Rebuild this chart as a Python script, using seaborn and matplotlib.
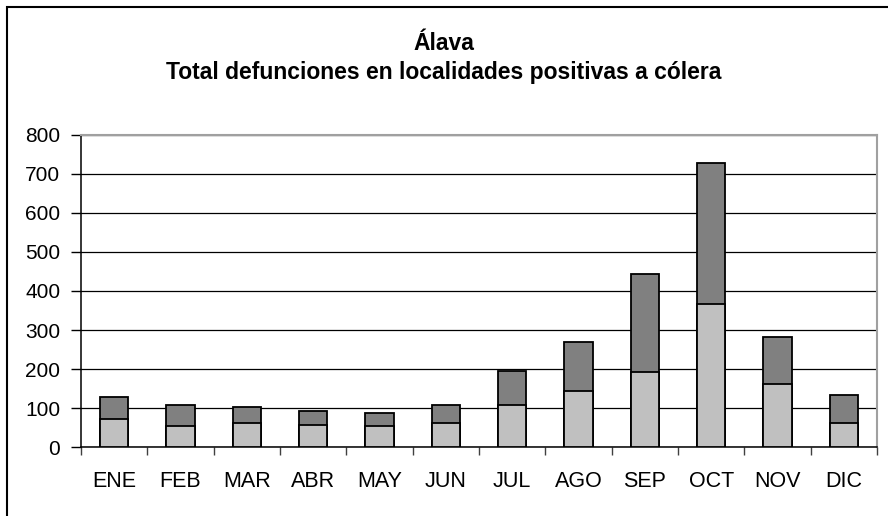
import matplotlib
matplotlib.use("Agg")
import matplotlib.pyplot as plt
import seaborn as sns
import pandas as pd
from matplotlib.patches import Rectangle
from matplotlib.ticker import FixedLocator, MultipleLocator

# Monthly deaths in localities with cholera cases (Álava)
months = ["ENE", "FEB", "MAR", "ABR", "MAY", "JUN",
          "JUL", "AGO", "SEP", "OCT", "NOV", "DIC"]
lower_part = [72, 55, 62, 58, 54, 62, 107, 143, 193, 368, 161, 62]
total = [130, 107, 103, 94, 89, 107, 194, 270, 444, 728, 282, 134]

df = pd.DataFrame({"mes": months, "base": lower_part, "total": total})

sns.set_theme(style="white")
plt.rcParams["font.family"] = ["Liberation Sans", "DejaVu Sans"]

fig = plt.figure(figsize=(8.88, 5.16), dpi=100)
ax = fig.add_axes([81 / 888, 1 - 447.3 / 516, (877 - 81) / 888, (447.3 - 134.7) / 516])

# full stacked height in dark grey, lower segment drawn over it in light grey
sns.barplot(data=df, x="mes", y="total", color="#808080", saturation=1,
            width=0.43, edgecolor="black", linewidth=1.3, ax=ax, zorder=3)
sns.barplot(data=df, x="mes", y="base", color="#C0C0C0", saturation=1,
            width=0.43, edgecolor="black", linewidth=1.3, ax=ax, zorder=4)

ax.set_xlim(-0.5, 11.5)
ax.set_ylim(0, 800)
ax.yaxis.set_major_locator(MultipleLocator(100))
ax.grid(axis="y", color="black", linewidth=0.9, zorder=0)
ax.set_axisbelow(True)
ax.set_xlabel("")
ax.set_ylabel("")

ax.xaxis.set_minor_locator(FixedLocator([i - 0.5 for i in range(13)]))
ax.tick_params(axis="x", which="major", length=0, pad=17, labelsize=15.5, colors="black")
ax.tick_params(axis="x", which="minor", bottom=True, length=6, width=1, color="#404040")
ax.tick_params(axis="y", which="major", left=True, length=7, width=1, pad=8,
               labelsize=15, colors="black")

for side in ["left", "bottom"]:
    ax.spines[side].set_color("black")
    ax.spines[side].set_linewidth(1.1)
for side in ["top", "right"]:
    ax.spines[side].set_visible(True)
    ax.spines[side].set_color("#A0A0A0")
    ax.spines[side].set_linewidth(1.5)
ax.spines["top"].set_zorder(5)

fig.text(0.5, 1 - 43 / 516, "Álava", ha="center", va="center",
         fontsize=16.5, fontweight="bold", color="black")
fig.text(0.5, 1 - 72 / 516, "Total defunciones en localidades positivas a cólera",
         ha="center", va="center", fontsize=16.5, fontweight="bold", color="black")

# chart frame
fig.patches.append(Rectangle((6.5 / 888, -0.05), 1.1, 1.05 - 6.5 / 516,
                             transform=fig.transFigure, fill=False,
                             edgecolor="black", linewidth=1.5))

fig.savefig("out.png", dpi=100)
